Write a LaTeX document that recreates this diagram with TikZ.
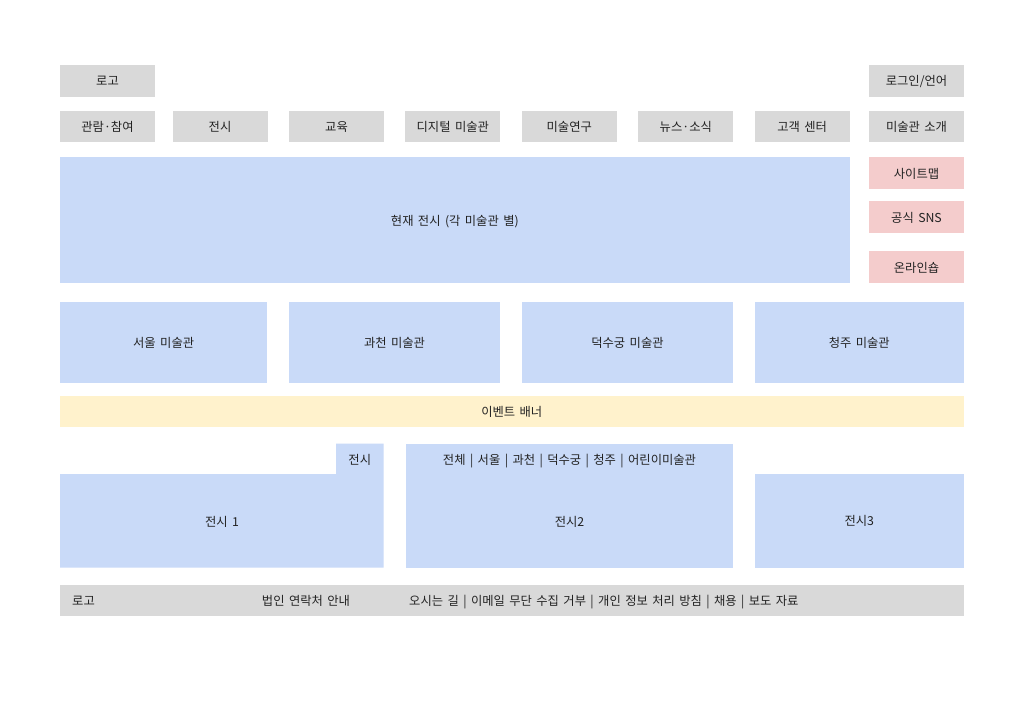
\documentclass[tikz,border=0pt]{standalone}
\usepackage{fontspec}
\setmainfont{Noto Sans CJK KR}[WordSpace=1.6]
\definecolor{gbg}{HTML}{D9D9D9}
\definecolor{bbg}{HTML}{C9DAF8}
\definecolor{pbg}{HTML}{F4CCCC}
\definecolor{ybg}{HTML}{FFF2CC}
\definecolor{txt}{HTML}{222222}
\begin{document}
\begin{tikzpicture}[x=1pt,y=-1pt,
  box/.style={inner sep=0pt, outer sep=0pt, text=txt, text height=10.5pt, text depth=0.5pt, font=\fontsize{12.3}{14}\selectfont},
  gbox/.style={box, fill=gbg},
  bbox/.style={box, fill=bbg},
  pbox/.style={box, fill=pbg},
  ybox/.style={box, fill=ybg},
  lbl/.style={inner sep=0pt, text=txt, text height=10.5pt, text depth=0.5pt, font=\fontsize{12.3}{14}\selectfont}]
\useasboundingbox (0,0) rectangle (1024,724);
\fill[white] (0,0) rectangle (1024,724);
% top
\node[gbox, minimum width=95, minimum height=32] (logo) at (107.5,80.5) {로고};
\node[gbox, minimum width=95, minimum height=32] (login) at (916.5,80.5) {로그인/언어};
% menu
\node[gbox, minimum width=95, minimum height=31.5] (m1) at (107.5,126.5) {관람·참여};
\node[gbox, minimum width=95, minimum height=31.5] (m2) at (220,126.5) {전시};
\node[gbox, minimum width=95, minimum height=31.5] (m3) at (336.5,126.5) {교육};
\node[gbox, minimum width=95, minimum height=31.5] (m4) at (452.8,126.5) {디지털 미술관};
\node[gbox, minimum width=95, minimum height=31.5] (m5) at (569.3,126.5) {미술연구};
\node[gbox, minimum width=95, minimum height=31.5] (m6) at (685.8,126.5) {뉴스·소식};
\node[gbox, minimum width=95, minimum height=31.5] (m7) at (802.2,126.5) {고객 센터};
\node[gbox, minimum width=95, minimum height=31.5] (m8) at (916.5,126.5) {미술관 소개};
% current exhibition
\node[bbox, minimum width=789.7, minimum height=126] (cur) at (454.85,220) {현재 전시 (각 미술관 별)};
\node[pbox, minimum width=94.5, minimum height=32] (sitemap) at (916.5,173.3) {사이트맵};
\node[pbox, minimum width=94.5, minimum height=32] (sns) at (916.5,217.3) {공식 SNS};
\node[pbox, minimum width=94.5, minimum height=32] (shop) at (916.5,267) {온라인숍};
% museums
\node[bbox, minimum width=207.3, minimum height=81] (mu1) at (163.65,342.2) {서울 미술관};
\node[bbox, minimum width=211, minimum height=81] (mu2) at (394.5,342.2) {과천 미술관};
\node[bbox, minimum width=211, minimum height=81] (mu3) at (627.5,342.2) {덕수궁 미술관};
\node[bbox, minimum width=208.5, minimum height=81] (mu4) at (859.25,342.2) {청주 미술관};
% event banner
\node[ybox, minimum width=903.5, minimum height=31.3] (event) at (511.75,411.7) {이벤트 배너};
% exhibitions
\fill[bbg] (60,474) -- (336,474) -- (336,443.5) -- (383.7,443.5) -- (383.7,567.7) -- (60,567.7) -- cycle;
\node[lbl] (tab) at (359.8,459.5) {전시};
\node[lbl] (ex1) at (222,521) {전시 1};
\node[bbox, minimum width=327.6, minimum height=123.7] (ex2box) at (569.5,505.85) {};
\node[lbl] (tabs) at (569.5,459.5) {전체 | 서울 | 과천 | 덕수궁 | 청주 | 어린이미술관};
\node[lbl] (ex2) at (569.5,521) {전시2};
\node[bbox, minimum width=208.5, minimum height=93.7] (ex3) at (859.25,520.85) {전시3};
% footer
\node[gbox, minimum width=903.5, minimum height=31] (footer) at (511.75,600.5) {};
\node[lbl, anchor=west] (flogo) at (72,600.5) {로고};
\node[lbl] (fcorp) at (306,600.5) {법인 연락처 안내};
\node[lbl, anchor=west] (flinks) at (409,600.5) {오시는 길 | 이메일 무단 수집 거부 | 개인 정보 처리 방침 | 채용 | 보도 자료};
\end{tikzpicture}
\end{document}
